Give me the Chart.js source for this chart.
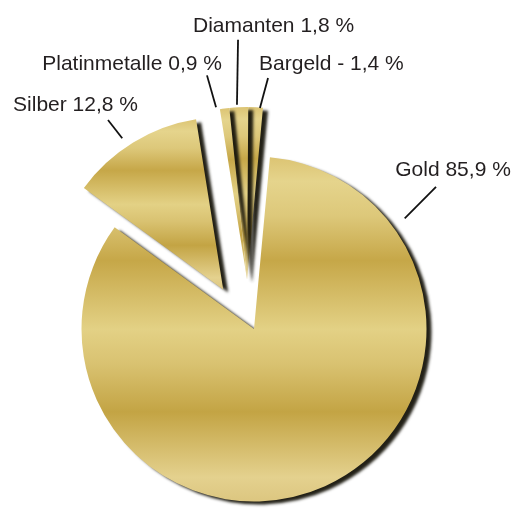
<!DOCTYPE html>
<html lang="de">
<head>
<meta charset="utf-8">
<title>Anteile</title>
<script src="https://cdn.jsdelivr.net/npm/chart.js@4/dist/chart.umd.min.js"></script>
<style>
  html, body { margin: 0; padding: 0; background: #fff; }
  #wrap { width: 521px; height: 508px; position: relative; }
</style>
</head>
<body>
<div id="wrap"><canvas id="pie"></canvas></div>
<script>
  /* --- Data --- */
  const categories = ['Gold', 'Silber', 'Platinmetalle', 'Diamanten', 'Bargeld'];
  const shares = [85.9, 12.8, 0.9, 1.8, -1.4];

  /* --- Styling / layout --- */
  // explode: [distance px, direction in degrees clockwise from top]
  const explode = [[0, 0], [50, -38], [50, -8], [50, -8], [50, -8]];
  const goldStops = [
    [0, '#DCC473'], [0.07, '#E5D48C'], [0.17, '#DDC87A'], [0.3, '#C6A748'],
    [0.5, '#E3D185'], [0.6, '#D9C271'], [0.74, '#C3A444'], [0.93, '#E4D18E'], [1, '#DCC680']
  ];
  // leader lines: polar [deg, radius] from slice centre, text offset from outer end
  const labelLayout = [
    { from: [53.7, 187], to: [52.0, 231], dx: 17, dy: -11, align: 'center' },
    { from: [-33.7, 182], to: [-34.2, 205], dx: -32.5, dy: -9, align: 'center' },
    { from: [-10.2, 175], to: [-11.1, 208], dx: 15, dy: -5, align: 'right' },
    { from: [-3.3, 175], to: [-2.15, 240], dx: 35.5, dy: -8, align: 'center' },
    { from: [4.3, 172], to: [5.95, 202.5], dx: -9, dy: -8, align: 'left' }
  ];

  const fmt = (v) => (v < 0 ? '- ' : '') + Math.abs(v).toFixed(1).replace('.', ',') + ' %';
  const rad = (d) => d * Math.PI / 180;

  function explodeVec(i) {
    const [dist, dir] = explode[i];
    return [Math.sin(rad(dir)) * dist, -Math.cos(rad(dir)) * dist];
  }

  function arcBounds(arc) {
    let top = arc.y, bottom = arc.y;
    const steps = 120;
    for (let s = 0; s <= steps; s++) {
      const t = arc.startAngle + (arc.endAngle - arc.startAngle) * s / steps;
      const y = arc.y + Math.sin(t) * arc.outerRadius;
      top = Math.min(top, y);
      bottom = Math.max(bottom, y);
    }
    return { top, bottom };
  }

  const goldPie = {
    id: 'goldPie',
    beforeDatasetDraw(chart, args) {
      const ctx = chart.ctx;
      const arcs = args.meta.data;
      // reverse order so each slice's shadow lies over its right neighbour
      for (let i = arcs.length - 1; i >= 0; i--) {
        const arc = arcs[i];
        const [dx, dy] = explodeVec(i);
        const { top, bottom } = arcBounds(arc);
        const grad = ctx.createLinearGradient(0, top, 0, bottom);
        goldStops.forEach(([p, c]) => grad.addColorStop(p, c));

        ctx.save();
        ctx.translate(dx, dy);
        ctx.shadowColor = 'rgba(22, 20, 10, 0.95)';
        ctx.shadowOffsetX = 5;
        ctx.shadowOffsetY = 3;
        ctx.shadowBlur = 3;
        const opts = arc.options;
        arc.options = Object.assign({}, opts, { backgroundColor: grad });
        arc.draw(ctx);
        arc.options = opts;
        ctx.restore();
      }
      return false;
    },
    afterDatasetsDraw(chart) {
      const ctx = chart.ctx;
      const arcs = chart.getDatasetMeta(0).data;
      ctx.save();
      ctx.strokeStyle = '#111';
      ctx.lineWidth = 1.8;
      ctx.fillStyle = '#231f20';
      ctx.font = '21px "Liberation Sans", Arial, sans-serif';
      ctx.textBaseline = 'alphabetic';
      arcs.forEach((arc, i) => {
        const [ex, ey] = explodeVec(i);
        const cx = arc.x + ex, cy = arc.y + ey;
        const L = labelLayout[i];
        const p = ([deg, r]) => [cx + Math.sin(rad(deg)) * r, cy - Math.cos(rad(deg)) * r];
        const a = p(L.from), b = p(L.to);
        ctx.beginPath();
        ctx.moveTo(a[0], a[1]);
        ctx.lineTo(b[0], b[1]);
        ctx.stroke();
        ctx.textAlign = L.align;
        ctx.fillText(categories[i] + ' ' + fmt(shares[i]), b[0] + L.dx, b[1] + L.dy);
      });
      ctx.restore();
    }
  };

  new Chart(document.getElementById('pie'), {
    type: 'pie',
    data: {
      labels: categories,
      datasets: [{
        data: shares,
        backgroundColor: '#D9C06A',
        borderWidth: 0,
        hoverOffset: 0
      }]
    },
    options: {
      responsive: true,
      maintainAspectRatio: false,
      animation: false,
      devicePixelRatio: 1,
      rotation: 5.3,
      radius: 172.5,
      layout: { padding: { left: 0, right: 13, top: 152, bottom: 2 } },
      events: [],
      plugins: {
        legend: { display: false },
        tooltip: { enabled: false }
      }
    },
    plugins: [goldPie]
  });
</script>
</body>
</html>
